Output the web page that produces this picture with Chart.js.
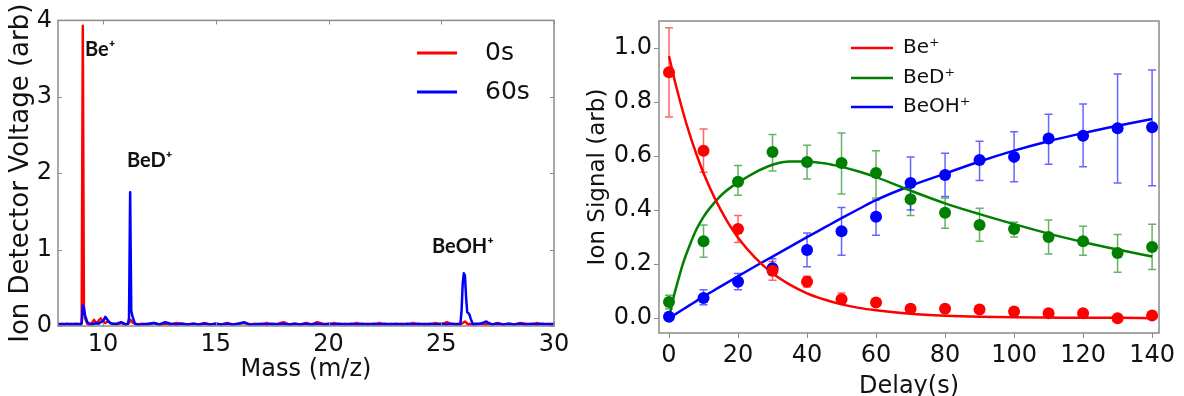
<!DOCTYPE html>
<html>
<head>
<meta charset="utf-8">
<script src="https://cdn.jsdelivr.net/npm/chart.js@4.4.0/dist/chart.umd.min.js"></script>
<style>
  html, body { margin: 0; padding: 0; background: #fff; }
  #wrap { position: relative; width: 1184px; height: 396px; overflow: hidden; }
  #massChart { position: absolute; left: 0; top: 0; }
  #delayChart { position: absolute; left: 580px; top: 0; }
</style>
</head>
<body>
<div id="wrap">
  <canvas id="massChart" width="580" height="396"></canvas>
  <canvas id="delayChart" width="604" height="396"></canvas>
</div>
<script>
// ---- left panel: mass spectrum ----
const massAxis = [
  8.0, 8.2, 8.4, 8.6, 8.8, 9.0, 9.05, 9.1, 9.15, 9.2, 9.3, 9.4, 9.5, 9.6, 9.7, 9.8,
  9.9, 10.0, 10.1, 10.2, 10.3, 10.4, 10.6, 10.8, 11.0, 11.1, 11.15, 11.2, 11.25, 11.3, 11.4, 11.5,
  11.75, 12.0, 12.25, 12.5, 12.75, 13.0, 13.25, 13.5, 13.75, 14.0,
  14.25, 14.5, 14.75, 15.0, 15.25, 15.5, 15.75, 16.0, 16.25, 16.5,
  16.75, 17.0, 17.25, 17.5, 17.75, 18.0, 18.25, 18.5, 18.75, 19.0,
  19.25, 19.5, 19.75, 20.0, 20.25, 20.5, 20.75, 21.0, 21.25, 21.5,
  21.75, 22.0, 22.25, 22.5, 22.75, 23.0, 23.25, 23.5, 23.75, 24.0,
  24.25, 24.5, 24.75, 25.0, 25.25, 25.5, 25.75,
  25.85, 25.9, 25.95, 26.0, 26.05, 26.1, 26.15, 26.2, 26.25, 26.3, 26.4, 26.5,
  26.75, 27.0, 27.1, 27.25,
  27.5, 27.75, 28.0, 28.25, 28.5, 28.75, 29.0, 29.25, 29.5, 29.75, 30.0
];
const signal0s = [
  0.02, 0.03, 0.02, 0.03, 0.02, 0.03, 0.05, 3.93, 0.2, 0.1, 0.03, 0.02, 0.04, 0.08, 0.03, 0.07,
  0.1, 0.05, 0.04, 0.06, 0.05, 0.03, 0.02, 0.04, 0.02, 0.03, 0.04, 0.08, 0.07, 0.05, 0.03, 0.02,
  0.03, 0.02, 0.04, 0.02, 0.03, 0.02, 0.04, 0.03, 0.02, 0.03,
  0.02, 0.04, 0.02, 0.03, 0.02, 0.04, 0.02, 0.03, 0.04, 0.02,
  0.03, 0.02, 0.04, 0.02, 0.03, 0.05, 0.02, 0.03, 0.02, 0.04,
  0.02, 0.05, 0.03, 0.02, 0.04, 0.02, 0.03, 0.02, 0.04, 0.02,
  0.03, 0.02, 0.04, 0.02, 0.03, 0.02, 0.03, 0.02, 0.04, 0.02,
  0.03, 0.02, 0.04, 0.02, 0.05, 0.02, 0.03,
  0.02, 0.03, 0.04, 0.05, 0.06, 0.05, 0.03, 0.02, 0.03, 0.02, 0.03, 0.02,
  0.03, 0.02, 0.03, 0.02,
  0.04, 0.02, 0.03, 0.02, 0.04, 0.03, 0.02, 0.04, 0.02, 0.03, 0.02
];
const signal60s = [
  0.03, 0.02, 0.03, 0.02, 0.03, 0.02, 0.03, 0.27, 0.24, 0.14, 0.05, 0.03, 0.02, 0.03, 0.04, 0.03,
  0.05, 0.06, 0.12, 0.08, 0.04, 0.03, 0.03, 0.05, 0.02, 0.03, 0.1, 1.75, 0.2, 0.13, 0.04, 0.02,
  0.02, 0.03, 0.04, 0.02, 0.05, 0.03, 0.02, 0.03, 0.02, 0.03,
  0.02, 0.03, 0.02, 0.03, 0.02, 0.03, 0.02, 0.03, 0.05, 0.02,
  0.02, 0.03, 0.02, 0.03, 0.02, 0.03, 0.02, 0.03, 0.02, 0.03,
  0.02, 0.03, 0.02, 0.03, 0.02, 0.03, 0.02, 0.03, 0.02, 0.03,
  0.02, 0.03, 0.02, 0.03, 0.02, 0.03, 0.02, 0.03, 0.02, 0.03,
  0.02, 0.03, 0.02, 0.03, 0.02, 0.03, 0.02,
  0.03, 0.2, 0.55, 0.69, 0.66, 0.38, 0.18, 0.17, 0.15, 0.1, 0.02, 0.03,
  0.03, 0.06, 0.04, 0.02,
  0.03, 0.02, 0.03, 0.02, 0.03, 0.02, 0.03, 0.02, 0.03, 0.02, 0.03
];
const massTicks = [10, 15, 20, 25, 30];
const voltTicks = [0, 1, 2, 3, 4];
const peakNames = ['Be⁺', 'BeD⁺', 'BeOH⁺'];
const peakMass = [9.2, 11.06, 24.59];
const peakVolt = [3.62, 2.16, 1.04];

// ---- right panel: signal vs delay ----
const delays = [0, 10, 20, 30, 40, 50, 60, 70, 80, 90, 100, 110, 120, 130, 140];
const beSignal = [0.91, 0.62, 0.33, 0.175, 0.135, 0.07, 0.058, 0.035, 0.035, 0.032, 0.025, 0.018, 0.018, 0.0, 0.01];
const beLow = [0.745, 0.54, 0.28, 0.14, 0.115, 0.055, 0.05, 0.03, 0.03, 0.027, 0.02, 0.013, 0.013, -0.005, 0.005];
const beHigh = [1.075, 0.70, 0.38, 0.21, 0.155, 0.093, 0.066, 0.04, 0.04, 0.037, 0.03, 0.023, 0.023, 0.005, 0.015];
const bedSignal = [0.06, 0.285, 0.505, 0.615, 0.578, 0.574, 0.537, 0.44, 0.39, 0.345, 0.33, 0.30, 0.285, 0.241, 0.263];
const bedLow = [0.035, 0.225, 0.455, 0.545, 0.515, 0.46, 0.445, 0.38, 0.333, 0.285, 0.30, 0.237, 0.233, 0.17, 0.18];
const bedHigh = [0.085, 0.345, 0.565, 0.68, 0.64, 0.685, 0.62, 0.49, 0.445, 0.407, 0.355, 0.363, 0.34, 0.31, 0.348];
const beohSignal = [0.005, 0.075, 0.135, 0.185, 0.252, 0.322, 0.375, 0.50, 0.53, 0.585, 0.597, 0.665, 0.675, 0.703, 0.707];
const beohLow = [0.0, 0.05, 0.105, 0.16, 0.19, 0.233, 0.307, 0.40, 0.45, 0.51, 0.505, 0.57, 0.56, 0.50, 0.49];
const beohHigh = [0.01, 0.105, 0.165, 0.22, 0.315, 0.41, 0.437, 0.597, 0.61, 0.655, 0.69, 0.755, 0.793, 0.904, 0.919];
const fitDelay = [0, 1, 2, 4, 6, 8, 10, 12, 14, 16, 18, 20, 25, 30, 35, 40, 45, 50, 55, 60, 70, 80, 90, 100, 110, 120, 130, 140];
const beFit = [0.97, 0.915, 0.862, 0.766, 0.68, 0.605, 0.537, 0.478, 0.425, 0.378, 0.335, 0.298, 0.223, 0.166, 0.124, 0.092, 0.069, 0.051, 0.038, 0.029, 0.016, 0.009, 0.005, 0.003, 0.002, 0.001, 0.001, 0.0];
const bedFit = [0.0, 0.06, 0.11, 0.2, 0.27, 0.33, 0.375, 0.41, 0.44, 0.465, 0.485, 0.502, 0.54, 0.568, 0.58, 0.58, 0.573, 0.56, 0.543, 0.522, 0.472, 0.425, 0.385, 0.348, 0.313, 0.282, 0.254, 0.228];
const beohFit = [0.0, 0.008, 0.016, 0.032, 0.048, 0.064, 0.08, 0.095, 0.11, 0.125, 0.14, 0.155, 0.192, 0.228, 0.264, 0.3, 0.335, 0.37, 0.404, 0.437, 0.49, 0.535, 0.58, 0.62, 0.655, 0.685, 0.712, 0.737];
const delayTicks = [0, 20, 40, 60, 80, 100, 120, 140];
const signalTicks = [0.0, 0.2, 0.4, 0.6, 0.8, 1.0];

Chart.defaults.font.family = "'DejaVu Sans', sans-serif";
Chart.defaults.color = '#111';

const toXY = (xs, ys) => xs.map((x, i) => ({ x: x, y: ys[i] }));
const setTicks = (vals) => (scale) => { scale.ticks = vals.map(v => ({ value: v })); };

// grey box around the plot area
const frame = {
  id: 'frame',
  afterDatasetsDraw(chart) {
    const { ctx, chartArea: a } = chart;
    ctx.save();
    ctx.strokeStyle = '#8a8a8a';
    ctx.lineWidth = 1.5;
    ctx.strokeRect(a.left, a.top, a.right - a.left, a.bottom - a.top);
    ctx.restore();
  }
};

// small ticks pointing into the plot, on all four sides
const innerTicks = {
  id: 'innerTicks',
  afterDatasetsDraw(chart) {
    const { ctx, chartArea: a, scales } = chart;
    const len = 4;
    ctx.save();
    ctx.strokeStyle = '#8a8a8a';
    ctx.lineWidth = 1;
    ctx.beginPath();
    scales.x.ticks.forEach(t => {
      const px = Math.round(scales.x.getPixelForValue(t.value)) + 0.5;
      ctx.moveTo(px, a.bottom); ctx.lineTo(px, a.bottom - len);
      ctx.moveTo(px, a.top); ctx.lineTo(px, a.top + len);
    });
    scales.y.ticks.forEach(t => {
      const py = Math.round(scales.y.getPixelForValue(t.value)) + 0.5;
      ctx.moveTo(a.left, py); ctx.lineTo(a.left + len, py);
      ctx.moveTo(a.right, py); ctx.lineTo(a.right - len, py);
    });
    ctx.stroke();
    ctx.restore();
  }
};

// legend drawn inside the plot
const sideKey = {
  id: 'sideKey',
  afterDraw(chart, args, o) {
    const ctx = chart.ctx;
    ctx.save();
    ctx.font = o.font;
    ctx.textBaseline = 'middle';
    ctx.fillStyle = '#111';
    o.rows.forEach((y, i) => {
      const ds = chart.data.datasets[o.index[i]];
      ctx.strokeStyle = ds.borderColor;
      ctx.lineWidth = o.lineWidth;
      ctx.beginPath();
      ctx.moveTo(o.x0, y);
      ctx.lineTo(o.x1, y);
      ctx.stroke();
      ctx.fillText(ds.label, o.textX, y);
    });
    ctx.restore();
  }
};

// peak names on the spectrum
const peakNotes = {
  id: 'peakNotes',
  afterDraw(chart) {
    const { ctx, scales } = chart;
    ctx.save();
    ctx.font = "bold 20px Lato, 'DejaVu Sans', sans-serif";
    ctx.textBaseline = 'middle';
    ctx.fillStyle = '#111';
    peakNames.forEach((name, i) => {
      ctx.fillText(name, scales.x.getPixelForValue(peakMass[i]), scales.y.getPixelForValue(peakVolt[i]));
    });
    ctx.restore();
  }
};

// vertical error bars with caps
const errorBars = {
  id: 'errorBars',
  beforeDatasetsDraw(chart) {
    const { ctx, scales } = chart;
    chart.data.datasets.forEach(ds => {
      if (!ds.errLow) return;
      ctx.save();
      ctx.strokeStyle = ds.errColor;
      ctx.lineWidth = 1.5;
      ctx.beginPath();
      ds.data.forEach((p, i) => {
        const px = scales.x.getPixelForValue(p.x);
        const lo = scales.y.getPixelForValue(ds.errLow[i]);
        const hi = scales.y.getPixelForValue(ds.errHigh[i]);
        ctx.moveTo(px, lo); ctx.lineTo(px, hi);
        ctx.moveTo(px - 4, lo); ctx.lineTo(px + 4, lo);
        ctx.moveTo(px - 4, hi); ctx.lineTo(px + 4, hi);
      });
      ctx.stroke();
      ctx.restore();
    });
  }
};

new Chart(document.getElementById('massChart'), {
  type: 'line',
  data: {
    datasets: [
      { label: '0s', data: toXY(massAxis, signal0s), borderColor: '#ff0000', borderWidth: 2.5, borderJoinStyle: 'round', order: 2 },
      { label: '60s', data: toXY(massAxis, signal60s), borderColor: '#0000ff', borderWidth: 2.5, borderJoinStyle: 'round', order: 1 }
    ]
  },
  options: {
    responsive: false,
    animation: false,
    events: [],
    layout: { padding: { top: 19, right: 26, left: 0, bottom: 0 } },
    elements: { point: { radius: 0 }, line: { tension: 0 } },
    scales: {
      x: {
        type: 'linear', min: 8, max: 30,
        afterBuildTicks: setTicks(massTicks),
        afterFit: (s) => { s.height = 70; },
        grid: { display: false, drawTicks: false },
        border: { display: false },
        ticks: { font: { size: 24 }, padding: 4 },
        title: { display: true, text: 'Mass (m/z)', font: { size: 24 }, padding: { top: 0, bottom: 12 } }
      },
      y: {
        type: 'linear', min: 0, max: 4,
        afterBuildTicks: setTicks(voltTicks),
        afterFit: (s) => { s.width = 58; },
        grid: { display: false, drawTicks: false },
        border: { display: false },
        ticks: { font: { size: 24 }, padding: 6 },
        title: { display: true, text: 'Ion Detector Voltage (arb)', font: { size: 26 }, padding: { top: 6, bottom: 0 } }
      }
    },
    plugins: {
      legend: { display: false },
      tooltip: { enabled: false },
      sideKey: { font: "25px 'DejaVu Sans', sans-serif", rows: [53, 92], index: [0, 1], x0: 417, x1: 457, textX: 485, lineWidth: 3 }
    }
  },
  plugins: [frame, innerTicks, sideKey, peakNotes]
});

new Chart(document.getElementById('delayChart'), {
  type: 'line',
  data: {
    datasets: [
      { label: 'Be⁺', data: toXY(fitDelay, beFit), borderColor: '#ff0000', borderWidth: 2.5, cubicInterpolationMode: 'monotone', order: 2 },
      { label: 'BeD⁺', data: toXY(fitDelay, bedFit), borderColor: '#008000', borderWidth: 2.5, cubicInterpolationMode: 'monotone', order: 2 },
      { label: 'BeOH⁺', data: toXY(fitDelay, beohFit), borderColor: '#0000ff', borderWidth: 2.5, cubicInterpolationMode: 'monotone', order: 2 },
      { label: 'Be⁺ data', data: toXY(delays, beSignal), showLine: false, pointRadius: 6, backgroundColor: '#ff0000', borderColor: '#ff0000',
        errLow: beLow, errHigh: beHigh, errColor: 'rgba(255,0,0,0.6)', order: 1 },
      { label: 'BeD⁺ data', data: toXY(delays, bedSignal), showLine: false, pointRadius: 6, backgroundColor: '#008000', borderColor: '#008000',
        errLow: bedLow, errHigh: bedHigh, errColor: 'rgba(0,128,0,0.6)', order: 1 },
      { label: 'BeOH⁺ data', data: toXY(delays, beohSignal), showLine: false, pointRadius: 6, backgroundColor: '#0000ff', borderColor: '#0000ff',
        errLow: beohLow, errHigh: beohHigh, errColor: 'rgba(0,0,255,0.6)', order: 1 }
    ]
  },
  options: {
    responsive: false,
    animation: false,
    events: [],
    layout: { padding: { top: 21, right: 25, left: 0, bottom: 0 } },
    elements: { point: { radius: 0, borderWidth: 0 } },
    scales: {
      x: {
        type: 'linear', min: -2.9, max: 142,
        afterBuildTicks: setTicks(delayTicks),
        afterFit: (s) => { s.height = 63; },
        grid: { drawOnChartArea: false, drawTicks: true, tickLength: 5, color: '#8a8a8a' },
        border: { display: false },
        ticks: { font: { size: 24 }, padding: 3 },
        title: { display: true, text: 'Delay(s)', font: { size: 24, lineHeight: 0.8 }, padding: { top: 0, bottom: 0 } }
      },
      y: {
        type: 'linear', min: -0.055, max: 1.1,
        afterBuildTicks: setTicks(signalTicks),
        afterFit: (s) => { s.width = 79; },
        grid: { drawOnChartArea: false, drawTicks: true, tickLength: 5, color: '#8a8a8a' },
        border: { display: false },
        ticks: { font: { size: 24 }, padding: 2, callback: (v) => v.toFixed(1) },
        title: { display: true, text: 'Ion Signal (arb)', font: { size: 23, lineHeight: 1 }, padding: { top: 7, bottom: 0 } }
      }
    },
    plugins: {
      legend: { display: false },
      tooltip: { enabled: false },
      sideKey: { font: "20px 'DejaVu Sans', sans-serif", rows: [48, 78, 107], index: [0, 1, 2], x0: 271, x1: 313, textX: 323, lineWidth: 2.5 }
    }
  },
  plugins: [frame, errorBars, sideKey]
});
</script>
</body>
</html>
